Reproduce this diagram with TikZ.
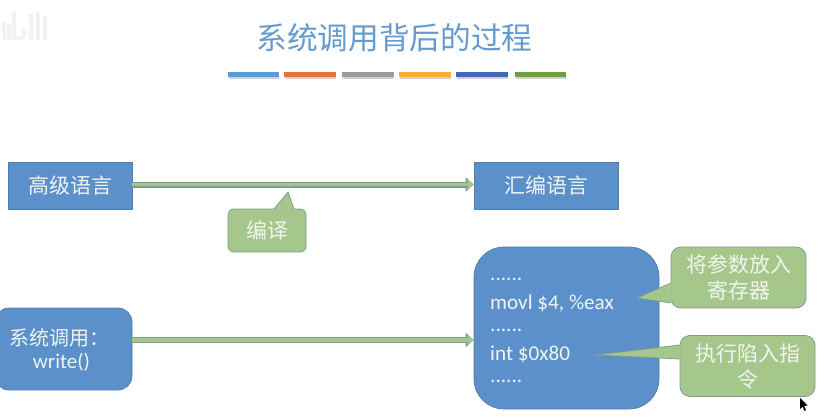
\documentclass[tikz,border=0pt]{standalone}
\usepackage{fontspec}
\setmainfont{Carlito}
\newfontfamily\cjk{Noto Sans CJK SC}[BoldFont={Noto Sans CJK SC}]
\usetikzlibrary{arrows.meta}
\definecolor{boxblue}{HTML}{5B90CA}
\definecolor{boxedge}{HTML}{4F7EAE}
\definecolor{calgreen}{HTML}{A6C78B}
\definecolor{caledge}{HTML}{7F9C93}
\definecolor{titleblue}{HTML}{659BCF}
\definecolor{txtw}{HTML}{F0F5F0}
\tikzset{
  x=1pt,y=-1pt,
  bluebox/.style={draw=boxedge,line width=.7pt,fill=boxblue,text=txtw,inner sep=0pt,align=center,font=\fontsize{21}{24}\selectfont\cjk},
  calbox/.style={draw=caledge,line width=.8pt,fill=calgreen,text=txtw,inner sep=0pt,align=center,font=\fontsize{21}{30}\selectfont\cjk},
  calfill/.style={fill=calgreen},
  caledge line/.style={draw=caledge,line width=.8pt},
  titlebar/.style={minimum width=#1,minimum height=5pt,inner sep=0pt,anchor=west},
  connector/.style={line width=3.6pt,draw=calgreen,
    -{Triangle[length=6pt,width=10pt,fill=calgreen,color=calgreen]},
    preaction={draw=caledge,line width=6pt,-{Triangle[length=8pt,width=14pt,fill=caledge,color=caledge]}}},
  code/.style={text=txtw,anchor=west,inner sep=0pt,font=\fontsize{21.2}{24}\selectfont},
}
\begin{document}
\begin{tikzpicture}
\useasboundingbox (0,0) rectangle (837,417);
\fill[white] (0,0) rectangle (837,417);
% faint watermark
\foreach \xa/\ya/\xb/\yb in {3/22/5/40,9/24/9/40,14/12/14/40,14/38/24/38,24/30/24/38,31/14/31/40,38/12/38/40,45/16/45/40}
  \draw[black!5,line width=3.5pt] (\xa,\ya) -- (\xb,\yb);
% title
\node[text=titleblue,inner sep=0pt,font=\fontsize{30.7}{34}\selectfont\cjk] (title) at (394.5,38) {系统调用背后的过程};
% bars
\foreach \n/\x/\w/\c in {a/228/51/5B9BD5,b/284/52/E9713A,c/342/52/9C9C9C,d/399/52/FBB030,e/456/52/3F69B5,f/515/51/6E9F45}{
  \definecolor{barc}{HTML}{\c}
  \fill[black!18] (\x+1,74) rectangle (\x+\w,79);
  \node[titlebar=\w pt,fill=barc] (bar\n) at (\x,74.5) {};
}
% boxes
\node[bluebox,minimum width=124pt,minimum height=47pt] (high) at (70,185.5) {高级语言};
\node[bluebox,minimum width=144pt,minimum height=47pt] (asm) at (546,185.5) {汇编语言};
\node[bluebox,minimum width=137pt,minimum height=82pt,rounded corners=14pt] (sys) at (63.5,349) {};
\node[text=txtw,inner sep=0pt,font=\fontsize{20}{24}\selectfont\cjk] (sysa) at (59.5,338) {系统调用：};
\node[text=txtw,inner sep=0pt,font=\fontsize{21}{24}\selectfont] (sysb) at (61.5,362) {write()};
\node[bluebox,minimum width=185pt,minimum height=162pt,rounded corners=30pt] (big) at (566.5,328) {};
% connectors
\draw[connector] (high.east |- 0,184.5) coordinate (h1) -- (asm.west |- 0,184.5);
\draw[connector] (sys.east |- 0,340) -- (big.west |- 0,340);
% code
\node[code] (c1) at (490,279) {......};
\node[code] (c2) at (490,303) {movl \$4, \%eax};
\node[code] (c3) at (490,330) {......};
\node[code] (c4) at (490,354) {int \$0x80};
\node[code] (c5) at (490,381) {......};
% callout: compile
\node[calbox,minimum width=78pt,minimum height=43pt,rounded corners=6pt] (bian) at (267,230.5) {编译};
\coordinate (bt) at (288,192);
\fill[calfill] (bt) -- (274,209.6) -- (294,209.6) -- cycle;
\draw[caledge line] (274,209) -- (bt) -- (294,209);
% callout: params
\node[calbox,minimum width=135pt,minimum height=61pt,rounded corners=10pt] (par) at (738.5,277.5) {将参数放入\\[-4pt]寄存器};
\coordinate (pt) at (637,298);
\fill[calfill] (pt) -- (671.6,283) -- (671.6,303) -- cycle;
\draw[caledge line] (671,283) -- (pt) -- (671,303);
% callout: trap
\node[calbox,minimum width=135pt,minimum height=61pt,rounded corners=10pt,text depth=0pt] (trap) at (747.5,366) {执行陷入指\\[-4pt]令};
\coordinate (tt) at (595,355);
\fill[calfill] (tt) -- (680.6,345) -- (680.6,359) -- cycle;
\draw[caledge line] (680,345) -- (tt) -- (680,359);
% cursor
\fill[black] (800,398) -- (800,409) -- (802.5,406.5) -- (804.5,411) -- (806,410) -- (804,406) -- (807.5,405.5) -- cycle;
\end{tikzpicture}
\end{document}
